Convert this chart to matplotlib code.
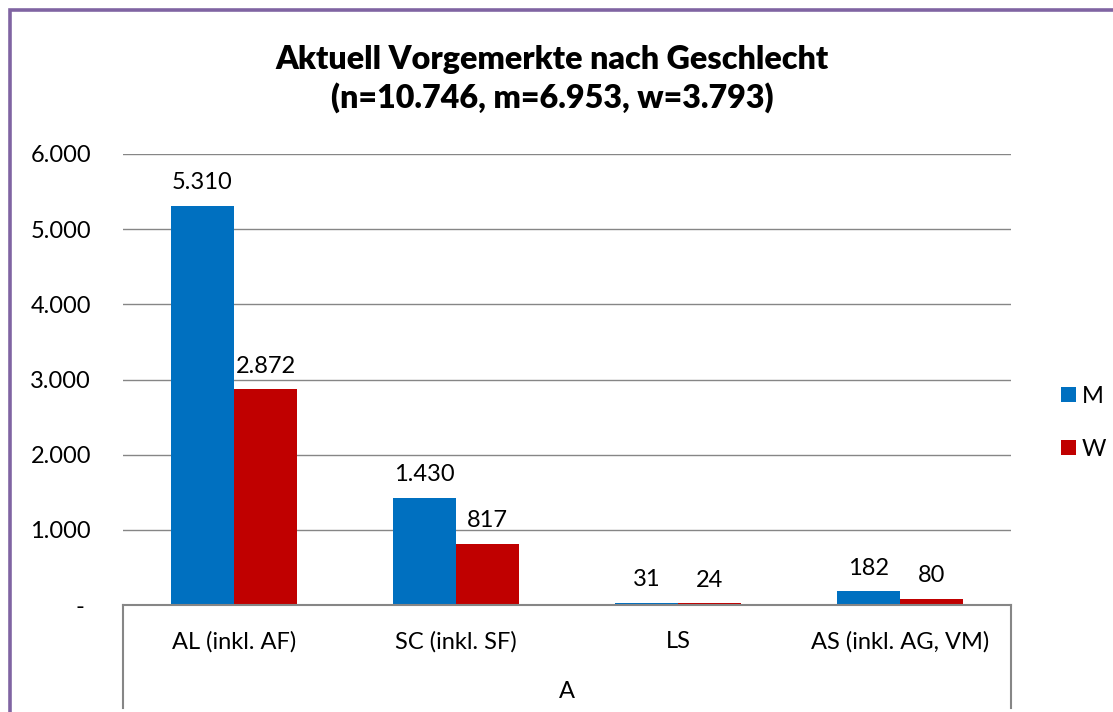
import matplotlib
matplotlib.use("Agg")
import matplotlib.pyplot as plt
from matplotlib.patches import Rectangle
import numpy as np

categories = ["AL (inkl. AF)", "SC (inkl. SF)", "LS", "AS (inkl. AG, VM)"]
group_label = "A"
series_names = ["M", "W"]
values_m = [5310, 1430, 31, 182]
values_w = [2872, 817, 24, 80]
yticks = [0, 1000, 2000, 3000, 4000, 5000, 6000]
title = "Aktuell Vorgemerkte nach Geschlecht\n(n=10.746, m=6.953, w=3.793)"

colors = ["#0070C0", "#C00000"]
FONT = "Lato"
plt.rcParams['font.family'] = [FONT, 'DejaVu Sans']

W, H = 1113, 712
fig = plt.figure(figsize=(W / 100, H / 100), dpi=100)
ax = fig.add_axes([123 / W, 1 - 605 / H, (1011 - 123) / W, (605 - 154) / H])


def de(v):
    return f"{v:,.0f}".replace(",", ".")


x = np.arange(len(categories))
bw = 0.284
bars_m = ax.bar(x - bw / 2, values_m, bw, color=colors[0], label=series_names[0], zorder=3)
bars_w = ax.bar(x + bw / 2, values_w, bw, color=colors[1], label=series_names[1], zorder=3)

for bars, vals in ((bars_m, values_m), (bars_w, values_w)):
    for b, v in zip(bars, vals):
        ax.annotate(de(v), (b.get_x() + b.get_width() / 2, v), xytext=(0, 9),
                    textcoords="offset points", ha="center", va="bottom",
                    fontsize=17, color="black")

ax.set_xlim(-0.5, len(categories) - 0.5)
ax.set_ylim(0, 6000)
ax.set_yticks(yticks)
ax.set_yticklabels([de(t) if t else "- " for t in yticks])
ax.set_xticks(x)
ax.set_xticklabels(categories)
ax.tick_params(axis="y", length=0, pad=23, labelsize=17)
ax.tick_params(axis="x", length=0, pad=19, labelsize=17)
ax.grid(axis="y", color="#868686", linewidth=1.0, zorder=0)
for s in ["top", "right", "left"]:
    ax.spines[s].set_visible(False)
ax.spines["bottom"].set_color("#868686")
ax.spines["bottom"].set_linewidth(1.5)
ax.spines["bottom"].set_zorder(4)

# outer group separators
ext = -(708 - 605) / (605 - 154)
for xa in (0, 1):
    ax.plot([xa, xa], [0, ext], transform=ax.transAxes, color="#868686",
            linewidth=1.5, clip_on=False)
ax.text(0.5, -(692 - 605) / (605 - 154), group_label, transform=ax.transAxes,
        ha="center", va="center", fontsize=17)

fig.text(552 / W, 1 - 79 / H, title, ha="center", va="center", fontsize=23.2,
         fontweight="heavy", linespacing=1.35)

leg = ax.legend(loc="center left", bbox_to_anchor=(1052 / W, 1 - 423 / H),
                bbox_transform=fig.transFigure, frameon=False, fontsize=17,
                handlelength=0.6, handleheight=0.6, handletextpad=0.25,
                labelspacing=1.35, borderaxespad=0)

fig.patches.append(Rectangle((9.5 / W, -0.1), 1.2, 1 - 9.5 / H + 0.1,
                             transform=fig.transFigure, fill=False,
                             edgecolor="#8064A2", linewidth=2.6, zorder=10))

fig.savefig("out.png", dpi=100)
